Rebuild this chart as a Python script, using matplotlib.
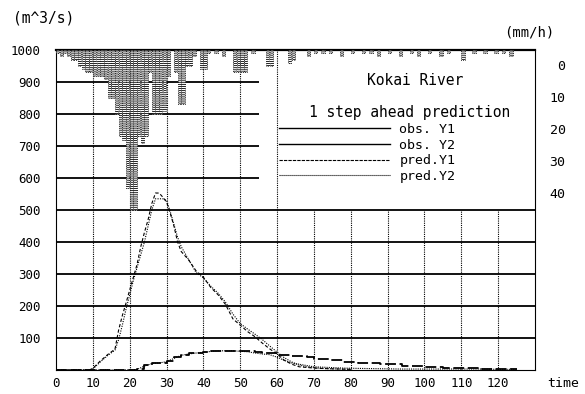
import matplotlib
matplotlib.use("Agg")
import matplotlib.pyplot as plt
import numpy as np
from matplotlib.lines import Line2D

# discharge, m^3/s
time_y1 = [0, 9, 10, 12, 14, 16, 17, 18, 19, 20,
           21, 22, 23, 24, 25, 26, 27, 28, 29, 30, 31, 32, 33, 34,
           36, 38, 40, 42, 44, 46, 48, 50, 52, 54, 56, 58, 60, 62, 64, 66, 68, 70,
           74, 80]
obs_y1 = [0, 0, 3, 25, 45, 62, 95, 140, 190, 235,
          280, 320, 360, 400, 450, 500, 535, 535, 535, 530, 495, 455, 415, 385,
          345, 305, 288, 262, 240, 212, 175, 145, 128, 112, 95, 75, 56, 38, 25, 15, 10, 7,
          4, 2]
pred_y1 = [0, 0, 5, 28, 48, 65, 125, 170, 209, 250,
           290, 330, 385, 430, 470, 520, 553, 553, 540, 525, 490, 450, 400, 370,
           344, 310, 290, 258, 235, 205, 160, 140, 120, 104, 84, 66, 50, 30, 18, 10, 8, 6,
           4, 2]

time_y2 = [0, 20, 22, 24, 26, 28, 30, 32, 34, 36,
           38, 40, 42, 44, 48, 52, 54, 56, 58, 60,
           62, 64, 68, 70, 74, 78, 82, 88, 94, 100,
           105, 110, 115, 120, 125]
obs_y2 = [0, 0, 3, 15, 22, 22, 28, 40, 48, 52,
          54, 56, 60, 60, 60, 58, 55, 52, 52, 47,
          47, 44, 40, 35, 30, 25, 21, 18, 12, 8,
          6, 5, 4, 3, 3]
pred_y2 = [0, 0, 2, 12, 20, 22, 26, 36, 46, 50,
           53, 55, 58, 60, 60, 57, 53, 50, 48, 40,
           30, 22, 14, 10, 8, 6, 5, 4, 3, 3,
           3, 3, 3, 2, 2]

# rainfall, mm/h
rain_time = [0, 1, 2, 3, 4, 5, 6, 7, 8, 9, 10, 11, 12, 13, 14, 15, 16, 17, 18, 19,
             20, 21, 22, 23, 24, 25, 26, 27, 28, 29, 30, 32, 33, 34, 35, 36, 37, 39, 40, 41,
             43, 45, 48, 49, 50, 51, 53, 57, 58, 63, 64, 68, 70, 72, 74, 77, 80, 83, 85, 87,
             90, 93, 96, 98, 101, 104, 106, 110, 113, 116, 119, 121, 123]
rain = [1, 2, 1, 2, 3, 3, 5, 6, 7, 7, 8, 8, 8, 9, 15, 15, 20, 27, 28, 43,
        50, 50, 27, 29, 27, 7, 20, 20, 20, 19, 8, 7, 17, 17, 5, 5, 2, 6, 6, 1,
        1, 2, 7, 7, 7, 7, 1, 5, 5, 4, 3, 2, 1, 1, 1, 2, 1, 1, 1, 2,
        1, 2, 1, 2, 1, 2, 1, 3, 1, 1, 1, 1, 2]

x_ticks = list(range(0, 130, 10))
q_ticks = list(range(100, 1100, 100))
r_ticks = [0, 10, 20, 30, 40]

mono = "DejaVu Sans Mono"
plt.rcParams["font.family"] = mono
plt.rcParams["font.size"] = 9
plt.rcParams["hatch.linewidth"] = 0.6

fig = plt.figure(figsize=(5.85, 3.94), dpi=100)
ax = fig.add_axes([56 / 585, 24 / 394, 479 / 585, 320 / 394])
ax.set_xlim(0, 130)
ax.set_ylim(0, 1000)

dot = (0, (1, 1))
# grid
ax.hlines([100, 200, 300, 400, 500], 0, 130, color="black", lw=1.3, zorder=1)
ax.hlines([600, 700, 800, 900], 0, 55, color="black", lw=1.3, zorder=1)
ax.vlines([10, 20, 30, 40, 50, 60], 0, 1000, color="black", lw=0.8, linestyles=[dot], zorder=1)
ax.vlines([70, 80, 90, 100, 110, 120], 0, 500, color="black", lw=0.8, linestyles=[dot], zorder=1)

ax.plot(time_y1, obs_y1, color="black", lw=0.8, ls=(0, (1, 1.2)), zorder=3)
ax.plot(time_y2, obs_y2, color="black", lw=1.3, ls=(0, (6, 2)), drawstyle="steps-post", zorder=3)
ax.plot(time_y1, pred_y1, color="black", lw=0.8, ls=(0, (3, 2)), zorder=3)
ax.plot(time_y2, pred_y2, color="black", lw=0.8, ls=(0, (1, 1)), zorder=3)

for s in ["left", "right", "bottom"]:
    ax.spines[s].set_linestyle(dot)
    ax.spines[s].set_linewidth(0.8)
ax.spines["bottom"].set_linestyle("-")
ax.spines["top"].set_linewidth(1.6)

ax.set_xticks(x_ticks)
ax.set_yticks(q_ticks)
ax.tick_params(axis="x", length=0, pad=5)
ax.tick_params(axis="y", length=0, pad=11)
ax.set_xlabel("time", fontsize=9.5)
ax.xaxis.set_label_coords(1.058, -0.022)

# rainfall on inverted right axis
ax2 = ax.twinx()
ax2.set_ylim(100, 0)
ax2.bar(rain_time, rain, width=0.9, align="edge", bottom=0, facecolor="white",
        edgecolor="black", linewidth=0.6, linestyle=":", hatch="--------", zorder=2)
ax2.set_yticks([r + 4.7 for r in r_ticks], labels=[str(r) for r in r_ticks])
ax2.tick_params(axis="y", length=0, pad=22, labelsize=9.5)
for lab in ax2.get_yticklabels():
    lab.set_horizontalalignment("right")
for s in ax2.spines.values():
    s.set_visible(False)

legend_lines = [
    Line2D([], [], color="black", lw=1.0),
    Line2D([], [], color="black", lw=1.0),
    Line2D([], [], color="black", lw=0.8, ls=(0, (3, 1))),
    Line2D([], [], color="black", lw=0.8, ls=(0, (1, 0.8))),
]
ax.legend(legend_lines, ["obs. Y1", "obs. Y2", "pred.Y1", "pred.Y2"],
          loc="upper left", bbox_to_anchor=(0.465, 0.772), frameon=False,
          borderaxespad=0, borderpad=0, handlelength=8.4, handletextpad=0.75,
          labelspacing=0.2, fontsize=9.5)
ax.text(97.5, 906, "Kokai River", ha="center", va="center", fontsize=10.5)
ax.text(96, 806, "1 step ahead prediction", ha="center", va="center", fontsize=10.5)

fig.text(44 / 585, 1 - 18 / 394, "(m^3/s)", ha="center", va="center", fontsize=10.5)
fig.text(529 / 585, 1 - 33 / 394, "(mm/h)", ha="center", va="center", fontsize=10)

fig.savefig("out.png", dpi=100)
